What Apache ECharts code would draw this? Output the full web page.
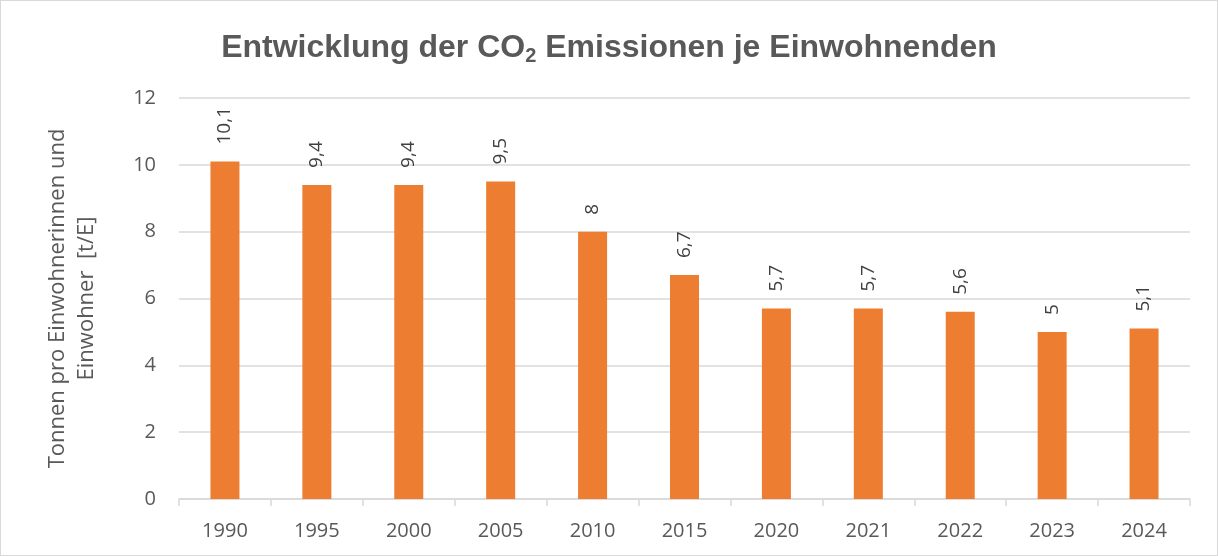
<!DOCTYPE html>
<html><head><meta charset="utf-8">
<script src="https://cdn.jsdelivr.net/npm/echarts@6/dist/echarts.min.js"></script>
<style>html,body{margin:0;padding:0;background:#fff}#c{width:1218px;height:556px;box-sizing:border-box;border:1px solid #d9d9d9}</style>
</head><body><div id="c"></div>
<script>
const categories = ['1990','1995','2000','2005','2010','2015','2020','2021','2022','2023','2024'];
const values = [10.1, 9.4, 9.4, 9.5, 8, 6.7, 5.7, 5.7, 5.6, 5, 5.1];
const yTicks = [0, 2, 4, 6, 8, 10, 12];
const chart = echarts.init(document.getElementById('c'));
chart.setOption({
  animation: false,
  title: {
    text: '{a|Entwicklung der CO}{s|2}{a| Emissionen je Einwohnenden}',
    left: 'center', top: 24,
    textStyle: {
      rich: {
        a: {fontFamily: 'Liberation Sans', fontWeight: 'bold', fontSize: 32, color: '#595959'},
        s: {fontFamily: 'Liberation Sans', fontWeight: 'bold', fontSize: 20, color: '#595959', verticalAlign: 'bottom', padding: [16, 0, 0, 0]}
      }
    }
  },
  grid: {left: 178, right: 27, top: 97, bottom: 56},
  xAxis: {
    type: 'category', data: categories,
    axisLine: {lineStyle: {color: '#d9d9d9', width: 1.5}},
    axisTick: {show: true, length: 7, alignWithLabel: false, lineStyle: {color: '#d9d9d9', width: 1.5}},
    axisLabel: {color: '#595959', fontSize: 20, fontFamily: 'Open Sans', margin: 22}
  },
  yAxis: {
    type: 'value', min: yTicks[0], max: yTicks[yTicks.length - 1], interval: 2,
    name: 'Tonnen pro Einwohnerinnen und\nEinwohner  [t/E]',
    nameLocation: 'middle', nameGap: 78, nameRotate: 90,
    nameTextStyle: {color: '#595959', fontSize: 22, fontFamily: 'Open Sans', lineHeight: 29, align: 'center'},
    axisLine: {show: false}, axisTick: {show: false},
    splitLine: {lineStyle: {color: '#d9d9d9', width: 1.5}},
    axisLabel: {color: '#595959', fontSize: 20, fontFamily: 'Open Sans', margin: 23}
  },
  series: [{
    type: 'bar', data: values, barWidth: 29,
    itemStyle: {color: '#ed7d31'},
    label: {
      show: true, position: 'top', rotate: 90, align: 'left', verticalAlign: 'middle', distance: 17,
      color: '#404040', fontSize: 19, fontFamily: 'Open Sans',
      formatter: p => String(p.value).replace('.', ',')
    }
  }]
});
</script></body></html>
